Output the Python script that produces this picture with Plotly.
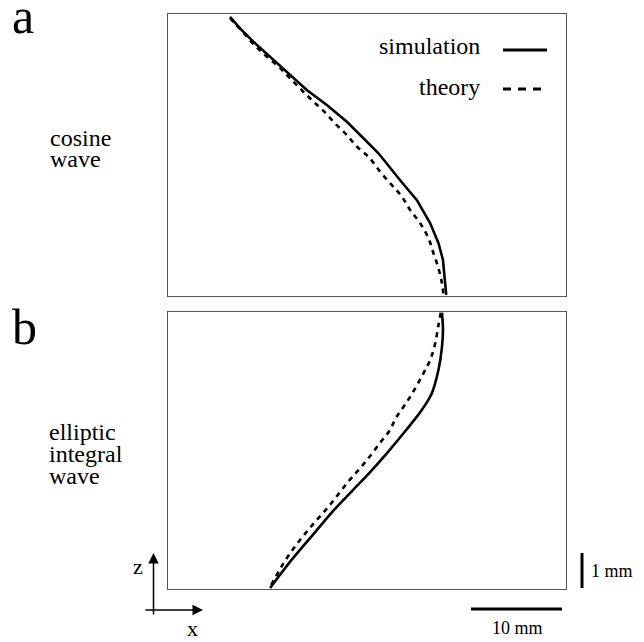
import plotly.graph_objects as go

# ---- data (mm) ----
cos_sim_x = [6.81, 7.91, 9.37, 11.21, 13.04, 15.24, 17.44, 19.64, 21.46, 23.11, 25.49, 27.33, 28.79, 29.70, 30.19, 30.44, 30.55]
cos_sim_z = [7.98, 7.65, 7.27, 6.84, 6.41, 5.89, 5.46, 4.98, 4.51, 4.08, 3.31, 2.74, 2.08, 1.51, 1.03, 0.46, 0.03]
cos_th_x = [6.81, 8.10, 9.20, 10.47, 11.95, 13.22, 14.51, 15.79, 17.07, 18.35, 19.64, 20.74, 22.01, 23.30, 24.58,
            25.68, 26.59, 27.69, 28.60, 29.15, 29.70, 30.08, 30.25]
cos_th_z = [7.94, 7.58, 7.25, 6.93, 6.60, 6.27, 5.93, 5.60, 5.29, 4.93, 4.60, 4.27, 3.98, 3.55, 3.17,
            2.84, 2.46, 2.08, 1.65, 1.22, 0.79, 0.36, 0.03]

ell_sim_x = [30.08, 30.19, 30.08, 29.70, 28.98, 27.86, 26.15, 24.07, 22.09, 20.33, 18.24, 15.88, 13.57, 11.21]
ell_sim_z = [7.89, 7.40, 6.91, 6.26, 5.60, 5.11, 4.54, 3.89, 3.31, 2.83, 2.26, 1.54, 0.83, 0.03]
ell_th_x = [29.95, 29.70, 29.34, 28.79, 28.05, 27.14, 26.15, 25.11, 24.32, 23.30, 22.20, 21.10, 19.81, 17.62, 15.24, 13.04, 11.21]
ell_th_z = [7.89, 7.54, 7.02, 6.54, 6.16, 5.73, 5.31, 4.92, 4.52, 4.18, 3.80, 3.45, 3.07, 2.35, 1.64, 0.88, 0.06]

x_range = [0, 43.7]
za_range = [0, 8.06]
zb_range = [0, 7.91]

# the page adds an 8px body margin; size the figure so it fills the 644x642 window
OFF = 8
W, H = 644 - OFF, 642 - OFF
def px(x):
    return (x - OFF) / W
def py(y):
    return 1 - (y - OFF) / H

FONT = "Liberation Serif"
fig = go.Figure()

line_solid = dict(color="black", width=2.6)
line_dash = dict(color="black", width=2.6, dash="5px,5px")

fig.add_trace(go.Scatter(x=cos_sim_x, y=cos_sim_z, mode="lines", line=line_solid, xaxis="x", yaxis="y", showlegend=False))
fig.add_trace(go.Scatter(x=cos_th_x, y=cos_th_z, mode="lines", line=line_dash, line_shape="spline", xaxis="x", yaxis="y", showlegend=False))
fig.add_trace(go.Scatter(x=ell_sim_x, y=ell_sim_z, mode="lines", line=line_solid, line_shape="spline", xaxis="x2", yaxis="y2", showlegend=False))
fig.add_trace(go.Scatter(x=ell_th_x, y=ell_th_z, mode="lines", line=line_dash, line_shape="spline", xaxis="x2", yaxis="y2", showlegend=False))

ax_common = dict(showgrid=False, zeroline=False, showticklabels=False, ticks="",
                 showline=True, mirror=True, linecolor="#555", linewidth=1)
xdom = [px(168), px(566)]
fig.update_layout(
    width=W, height=H, margin=dict(l=0, r=0, t=0, b=0),
    paper_bgcolor="white", plot_bgcolor="white",
    xaxis=dict(domain=xdom, range=x_range, anchor="y", **ax_common),
    yaxis=dict(domain=[py(296), py(14)], range=za_range, anchor="x", **ax_common),
    xaxis2=dict(domain=xdom, range=x_range, anchor="y2", **ax_common),
    yaxis2=dict(domain=[py(589), py(312)], range=zb_range, anchor="x2", **ax_common),
)

ann = []
def text(t, x, y, size, xanchor="left", yanchor="middle"):
    ann.append(dict(text=t, x=px(x), y=py(y), xref="paper", yref="paper", showarrow=False,
                    xanchor=xanchor, yanchor=yanchor, font=dict(family=FONT, size=size, color="black")))

text("a", 10, 16, 50)
text("b", 10, 327, 50)
text("cosine", 48, 138, 24)
text("wave", 48, 159, 24)
text("elliptic", 47, 432, 24)
text("integral", 47, 454, 24)
text("wave", 47, 476, 24)
text("simulation", 482, 46, 24, xanchor="right")
text("theory", 482, 87, 24, xanchor="right")
text("1 mm", 589, 571, 18)
text("10 mm", 517, 628, 18, xanchor="center")
text("z", 138, 566, 22, xanchor="center")
text("x", 192, 628, 22, xanchor="center")

# axis arrows
ann.append(dict(x=px(153.5), y=py(553), xref="paper", yref="paper", ax=0, ay=63,
                showarrow=True, arrowhead=2, arrowsize=1.4, arrowwidth=1.5, arrowcolor="black", text=""))
ann.append(dict(x=px(203), y=py(610), xref="paper", yref="paper", ax=-59, ay=0,
                showarrow=True, arrowhead=2, arrowsize=1.4, arrowwidth=1.5, arrowcolor="black", text=""))
fig.update_layout(annotations=ann)

shapes = [
    # legend samples
    dict(type="line", xref="paper", yref="paper", x0=px(503), x1=px(547), y0=py(50), y1=py(50),
         line=dict(color="black", width=3)),
    dict(type="line", xref="paper", yref="paper", x0=px(503), x1=px(543), y0=py(89), y1=py(89),
         line=dict(color="black", width=3, dash="8px,7px")),
    # scale bars
    dict(type="line", xref="paper", yref="paper", x0=px(582), x1=px(582), y0=py(553), y1=py(588),
         line=dict(color="black", width=3)),
    dict(type="line", xref="paper", yref="paper", x0=px(471), x1=px(562), y0=py(609), y1=py(609),
         line=dict(color="black", width=3)),
]
fig.update_layout(shapes=shapes)

fig.write_html("out.html")
